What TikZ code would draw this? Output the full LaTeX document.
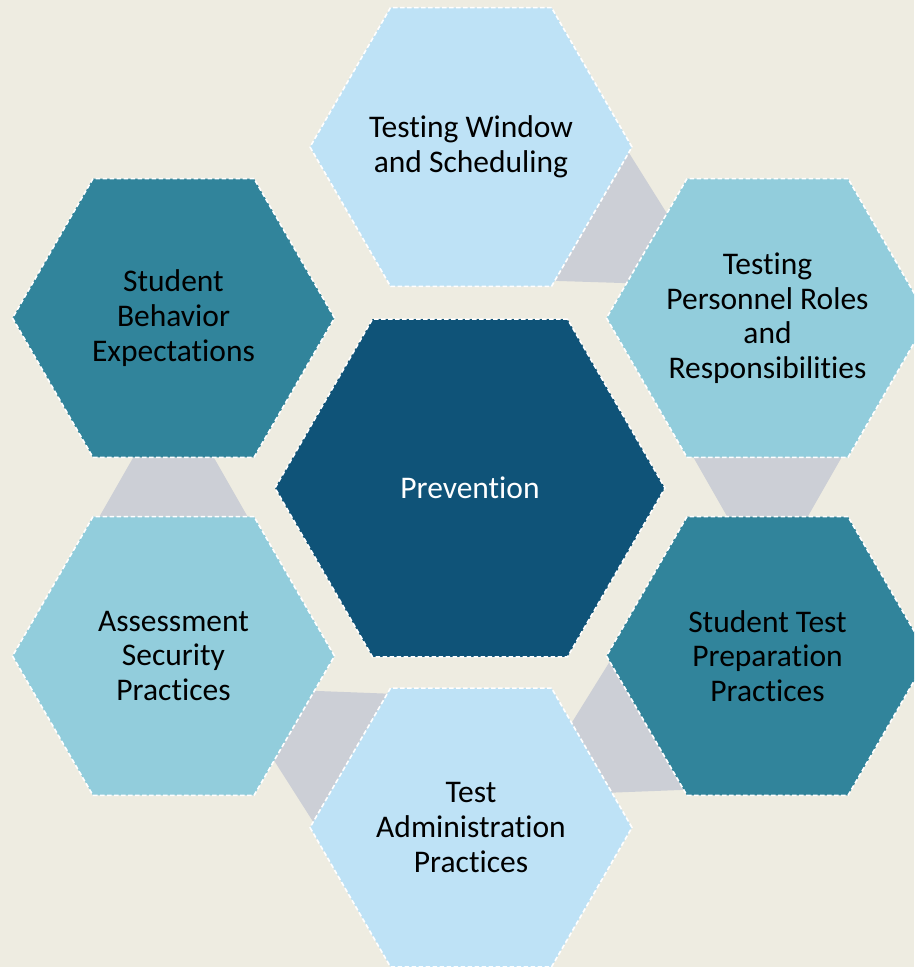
\documentclass[tikz,border=0pt]{standalone}
\usepackage{fontspec}
\setmainfont{Carlito}[Ligatures=NoCommon]
\usepackage{xcolor}
\usepackage{tikz}
\usetikzlibrary{shapes.geometric,calc}
\pgfdeclarelayer{background}
\pgfsetlayers{background,main}
\tikzset{
  hexbox/.style={regular polygon, regular polygon sides=6,
                 minimum size=#1, inner sep=0pt, outer sep=0pt,
                 draw=white, line width=1.6pt, dash pattern=on 4.5pt off 2.5pt},
  hexbox/.default=322pt,
  hextext/.style={align=center, inner sep=0pt,
                  font=\fontsize{31.5}{34.6}\selectfont},
  lightbox/.style={hexbox, fill=hexlight},
  aquabox/.style ={hexbox, fill=hexaqua},
  tealbox/.style ={hexbox, fill=hexteal},
  corebox/.style ={hexbox=390pt, fill=hexcore},
  linkfill/.style={fill=linkgray},
}
\definecolor{pagebg}  {RGB}{238,236,225}
\definecolor{hexlight}{RGB}{190,226,246}
\definecolor{hexaqua} {RGB}{146,205,220}
\definecolor{hexteal} {RGB}{49,132,155}
\definecolor{hexcore} {RGB}{15,83,120}
\definecolor{linkgray}{RGB}{204,207,214}
% trapezoid between two facing hexagon edges: wide on the first, narrow on the second
\newcommand{\hexlink}[4]{%
  \fill[linkfill] ($(#1)!0.04!(#2)$) -- ($(#1)!0.96!(#2)$)
    -- ($(#3)!0.75!(#4)$) -- ($(#3)!0.25!(#4)$) -- cycle;}

\begin{document}
\begin{tikzpicture}[x=1pt,y=-1pt]
  \useasboundingbox (0,0) rectangle (914,967);
  \clip (0,0) rectangle (914,967);
  % corners run counterclockwise, corner 1 at the top right
  \node[corebox, label={[hextext, text=white]center:Prevention}] (prev) at (470,488) {};
  \node[lightbox, label={[hextext]center:Testing Window\\and Scheduling}] (window) at (471,147) {};
  \node[aquabox, label={[hextext]center:Testing\\Personnel Roles\\and\\Responsibilities}] (roles) at (767.5,318) {};
  \node[tealbox, label={[hextext]center:Student Test\\Preparation\\Practices}] (prep) at (767.5,656) {};
  \node[lightbox, label={[hextext]center:Test\\Administration\\Practices}] (admin) at (471,827.5) {};
  \node[aquabox, label={[hextext]center:Assessment\\Security\\Practices}] (secure) at (173.5,656) {};
  \node[tealbox, label={[hextext]center:Student\\Behavior\\Expectations}] (behave) at (173.5,318) {};
  \begin{pgfonlayer}{background}
    \fill[pagebg] (0,0) rectangle (914,967);
    \hexlink{window.corner 6}{window.corner 5}{roles.corner 2}{roles.corner 3}
    \hexlink{roles.corner 4}{roles.corner 5}{prep.corner 2}{prep.corner 1}
    \hexlink{prep.corner 3}{prep.corner 4}{admin.corner 1}{admin.corner 6}
    \hexlink{admin.corner 2}{admin.corner 3}{secure.corner 6}{secure.corner 5}
    \hexlink{secure.corner 2}{secure.corner 1}{behave.corner 4}{behave.corner 5}
  \end{pgfonlayer}
\end{tikzpicture}
\end{document}
